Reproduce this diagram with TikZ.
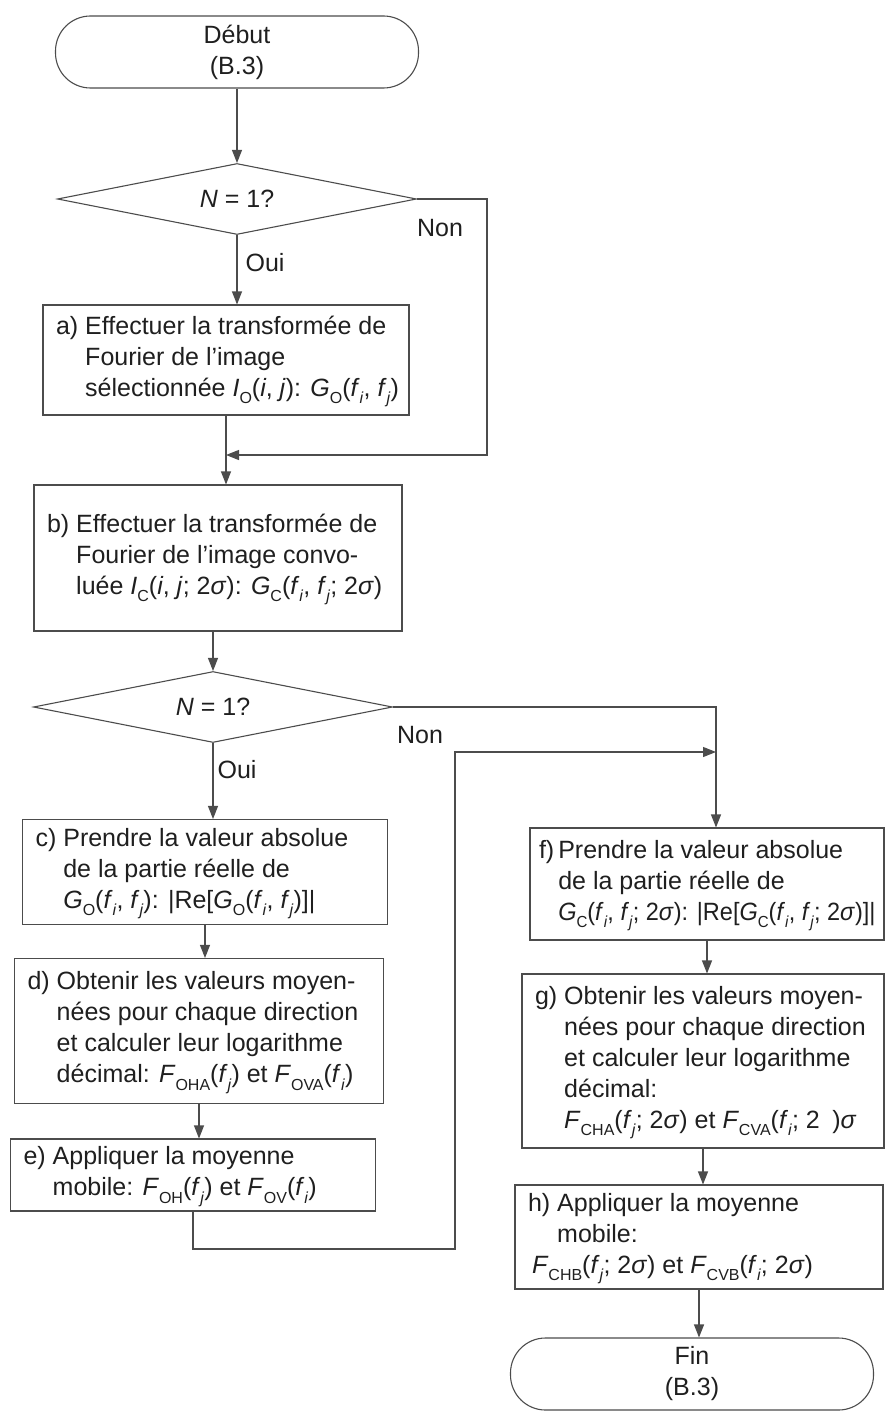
\documentclass[tikz,border=0pt]{standalone}
\usepackage{fontspec}
\setmainfont{Liberation Sans}
\usetikzlibrary{shapes.geometric,arrows.meta}
\definecolor{ink}{gray}{0.12}
\definecolor{linec}{gray}{0.3}
% small lowered index text
\newcommand\sbs[1]{\raisebox{-0.3em}{\fontsize{16}{16}\selectfont #1}}
\newcommand\sg{\textit{σ}}
\newcommand\fsi{\textit{f}\sbs{\textit{i}}}
\newcommand\fsj{\textit{f}\sbs{\textit{j}}}
% step label with hanging indent: [gap]{width}{rows}
\newcommand\steptext[3][7pt]{\makebox[#2][l]{\begin{tabular}{@{}l@{\hspace{#1}}l@{}}#3\end{tabular}}}

\begin{document}
\begin{tikzpicture}[x=1pt,y=-1pt,
  every node/.style={text=ink, font=\fontsize{25}{31}\selectfont},
  proc/.style={draw=linec, line width=1.1pt, inner xsep=13pt, inner ysep=0pt, minimum height=#1},
  term/.style={draw=linec, line width=1.1pt, rounded corners=35pt, minimum width=363pt, minimum height=72pt, align=center},
  decision/.style={draw=linec, line width=1.1pt, diamond, shape aspect=5, inner sep=0pt, minimum width=359pt, minimum height=71pt},
  flow/.style={draw=linec, line width=1.1pt, -{Triangle[length=13pt,width=10pt]}},
  lbl/.style={inner sep=0pt}]

\useasboundingbox (0,0) rectangle (885,1415);

% left column
\node[term] (start) at (237,52) {Début\\(B.3)};
\node[decision] (q1) at (237,199) {\textit{N} = 1?};
\node[proc=110pt] (a) at (226,360) {\steptext{340pt}{a) & Effectuer la transformée de\\
  & Fourier de l’image\\
  & sélectionnée \textit{I}\sbs{O}(\textit{i}, \textit{j}): \textit{G}\sbs{O}(\fsi, \fsj)}};
\node[proc=146pt] (b) at (218,558) {\steptext{342pt}{b) & Effectuer la transformée de\\
  & Fourier de l’image convo-\\
  & luée \textit{I}\sbs{C}(\textit{i}, \textit{j}; 2\sg): \textit{G}\sbs{C}(\fsi, \fsj; 2\sg)}};
\node[decision] (q2) at (213,707) {\textit{N} = 1?};
\node[proc=105pt] (c) at (205,872) {\steptext{339pt}{c) & Prendre la valeur absolue\\
  & de la partie réelle de\\
  & \textit{G}\sbs{O}(\fsi, \fsj): |Re[\textit{G}\sbs{O}(\fsi, \fsj)]|}};
\node[proc=145pt] (d) at (199,1031) {\steptext{343pt}{d) & Obtenir les valeurs moyen-\\
  & nées pour chaque direction\\
  & et calculer leur logarithme\\
  & décimal: \textit{F}\sbs{OHA}(\fsj) et \textit{F}\sbs{OVA}(\fsi)}};
\node[proc=72pt] (e) at (193,1175) {\steptext{339pt}{e) & Appliquer la moyenne\\
  & mobile: \textit{F}\sbs{OH}(\fsj) et \textit{F}\sbs{OV}(\fsi)}};

% right column
\node[proc=112pt, inner xsep=9pt] (f) at (707,884) {\steptext[4pt]{336pt}{f) & Prendre la valeur absolue\\
  & de la partie réelle de\\
  & \scalebox{0.94}[1]{\textit{G}\sbs{C}(\fsi, \fsj; 2\sg): |Re[\textit{G}\sbs{C}(\fsi, \fsj; 2\sg)]|}}};
\node[proc=174pt] (g) at (703,1061) {\steptext{336pt}{g) & Obtenir les valeurs moyen-\\
  & nées pour chaque direction\\
  & et calculer leur logarithme\\
  & décimal:\\
  & \textit{F}\sbs{CHA}(\fsj; 2\sg) et \textit{F}\sbs{CVA}(\fsi; 2\hspace{0.5em})\sg}};
\node[proc=104pt] (h) at (699,1237) {\steptext{342pt}{h) & Appliquer la moyenne\\
  & mobile:\\
  \multicolumn{2}{@{}l@{}}{\hspace{4pt}\textit{F}\sbs{CHB}(\fsj; 2\sg) et \textit{F}\sbs{CVB}(\fsi; 2\sg)}}};
\node[term] (fin) at (692,1374) {Fin\\(B.3)};

% branch labels
\node[lbl] (oui1) at (265,263) {Oui};
\node[lbl] (non1) at (440,228) {Non};
\node[lbl] (oui2) at (237,770) {Oui};
\node[lbl] (non2) at (420,735) {Non};

% bend points
\coordinate (r1) at (487,455);
\coordinate (j1) at (226,455);
\coordinate (r2) at (716,707);
\coordinate (l2) at (455,1249);
\coordinate (l3) at (455,752);
\coordinate (j2) at (716,752);

% connectors
\draw[flow] (start) -- (q1);
\draw[flow] (q1.south) -- (q1.south |- a.north);
\draw[flow] (q1.east) -| (r1) -- (j1);
\draw[flow] (a.south) -- (a.south |- b.north);
\draw[flow] (q2.north |- b.south) -- (q2.north);
\draw[flow] (q2.south) -- (q2.south |- c.north);
\draw[flow] (c.south) -- (c.south |- d.north);
\draw[flow] (d.south) -- (d.south |- e.north);
\draw[flow] (q2.east) -- (r2) -- (r2 |- f.north);
\draw[flow] (e.south) |- (l2) -- (l3) -- (j2);
\draw[flow] (f.south) -- (f.south |- g.north);
\draw[flow] (g.south) -- (g.south |- h.north);
\draw[flow] (h.south) -- (h.south |- fin.north);
\end{tikzpicture}
\end{document}
